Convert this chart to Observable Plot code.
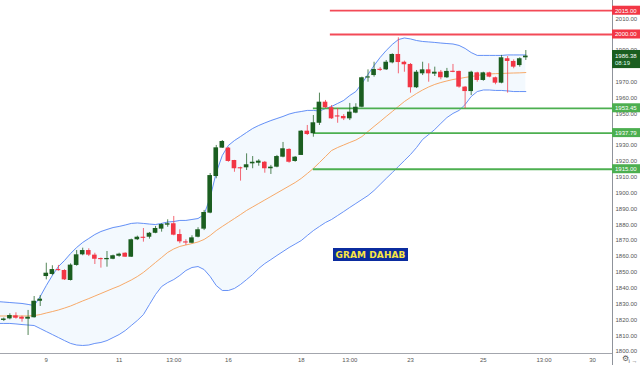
<!DOCTYPE html>
<html><head><meta charset="utf-8">
<script src="https://cdn.jsdelivr.net/npm/d3@7"></script>
<script src="https://cdn.jsdelivr.net/npm/@observablehq/plot@0.6"></script>
<style>
html,body{margin:0;padding:0;background:#fff;}
#wrap{position:relative;width:640px;height:365px;overflow:hidden;}
#tag{position:absolute;left:333px;top:248px;width:75px;height:13px;background:#0b2c9f;color:#f8e544;font:bold 9px "DejaVu Sans",sans-serif;display:flex;align-items:center;justify-content:center;letter-spacing:0.1px;}
#gear{position:absolute;left:622px;top:355px;font:8px/8px "DejaVu Sans",sans-serif;color:#555;}
</style></head><body><div id="wrap"></div>
<script>
// ---- data (4h candles, index 0..86) ----
const opens = [1819.6,1820.6,1822.5,1821.6,1820.4,1821.3,1831.7,1847.3,1848.6,1851.6,
 1851.1,1844.8,1854.3,1861.0,1863.7,1860.8,1858.5,1857.9,1858.2,1860.1,
 1862.0,1859.5,1870.5,1871.9,1872.1,1874.6,1877.2,1879.7,1880.6,1873.8,
 1869.0,1868.3,1872.1,1877.2,1887.3,1910.4,1928.3,1928.3,1920.5,1915.9,
 1915.9,1918.4,1918.8,1919.4,1915.3,1916.3,1922.6,1927.5,1919.9,1923.7,
 1939.0,1937.4,1944.0,1957.3,1953.8,1948.5,1948.3,1946.8,1950.4,1954.1,
 1972.7,1974.1,1977.9,1977.7,1982.1,1987.4,1982.5,1981.1,1966.4,1975.2,
 1977.7,1975.0,1976.2,1972.7,1976.7,1976.7,1966.8,1964.0,1975.8,1971.0,
 1975.8,1972.7,1969.3,1984.7,1983.0,1980.4,1985.3];
const highs = [1821.1,1823.8,1824.4,1822.3,1825.9,1834.7,1835.3,1855.7,1854.1,1854.3,
 1851.6,1855.3,1863.7,1865.2,1864.8,1862.0,1859.0,1863.1,1860.8,1862.0,
 1862.3,1870.9,1872.8,1877.6,1875.1,1878.9,1880.6,1883.1,1885.2,1876.8,
 1870.5,1873.0,1878.1,1889.0,1912.3,1930.0,1933.1,1928.7,1920.6,1916.3,
 1924.7,1923.0,1921.0,1919.9,1917.4,1923.7,1931.9,1927.9,1923.0,1939.4,
 1942.6,1948.9,1963.0,1958.4,1955.2,1953.3,1949.5,1956.5,1956.3,1973.1,
 1977.7,1982.5,1979.2,1983.6,1987.8,1997.9,1983.2,1981.7,1977.3,1982.5,
 1981.5,1979.4,1977.3,1978.6,1981.1,1976.9,1967.2,1976.8,1976.2,1976.2,
 1976.2,1973.1,1986.8,1986.1,1984.0,1985.3,1989.9];
const lows = [1818.9,1820.0,1820.4,1818.5,1810.1,1821.1,1828.4,1845.2,1847.8,1850.7,
 1844.8,1844.5,1853.8,1860.4,1859.9,1854.9,1852.6,1853.2,1857.9,1859.5,
 1859.3,1859.3,1870.0,1869.0,1870.9,1874.3,1875.3,1878.4,1873.0,1868.0,
 1866.9,1868.0,1871.7,1876.3,1886.9,1909.0,1928.1,1919.4,1913.1,1907.5,
 1914.2,1915.3,1916.9,1912.5,1911.7,1915.9,1922.2,1918.8,1919.4,1923.7,
 1936.3,1935.2,1942.6,1953.3,1946.4,1944.0,1945.7,1945.7,1950.0,1953.8,
 1969.9,1973.1,1976.7,1977.3,1981.5,1975.2,1976.2,1963.0,1965.9,1974.1,
 1969.9,1973.5,1971.4,1972.2,1975.9,1966.1,1953.1,1961.5,1969.9,1970.5,
 1972.7,1968.3,1968.9,1963.0,1978.4,1979.4,1983.6];
const closes = [1820.5,1822.7,1821.0,1820.4,1821.6,1831.7,1833.0,1849.4,1851.7,1851.1,
 1845.2,1854.5,1861.0,1863.7,1860.8,1858.2,1858.1,1858.7,1860.4,1861.4,
 1859.5,1870.5,1872.1,1871.6,1874.6,1877.6,1880.1,1880.6,1873.4,1869.2,
 1868.6,1871.7,1876.8,1887.7,1911.0,1928.5,1932.5,1919.9,1915.3,1915.3,
 1917.8,1919.4,1920.1,1915.3,1916.3,1923.0,1927.9,1919.4,1922.6,1939.0,
 1936.9,1944.3,1957.3,1953.8,1946.8,1948.1,1946.8,1951.0,1954.1,1972.7,
 1973.1,1977.9,1977.5,1982.5,1987.4,1982.3,1980.9,1966.4,1976.2,1977.7,
 1975.2,1976.2,1972.7,1976.7,1976.2,1966.8,1964.0,1976.2,1971.0,1975.8,
 1973.1,1969.3,1985.3,1983.0,1979.4,1984.7,1986.38];

// Bollinger bands, index -1..86
const bbFirstIndex = -1;
const bbUpper = [1831.5,1831.2,1830.9,1830.6,1830.3,1829.7,1829.0,1834.7,1841.6,1848.0,
 1853.6,1857.4,1861.8,1865.6,1868.8,1871.3,1873.8,1875.7,1877.0,1878.2,
 1878.9,1879.8,1880.8,1881.1,1880.8,1880.4,1880.1,1880.8,1881.7,1882.0,
 1882.7,1882.7,1883.3,1883.9,1886.4,1897.2,1912.9,1923.7,1930.0,1933.1,
 1935.6,1938.2,1940.7,1942.6,1944.2,1945.7,1947.0,1948.3,1949.8,1950.8,
 1951.4,1952.1,1952.1,1951.7,1953.3,1954.6,1956.5,1958.4,1961.5,1964.0,
 1969.1,1974.8,1980.4,1985.5,1989.9,1993.7,1996.8,1997.8,1997.2,1996.2,
 1995.6,1995.3,1995.0,1994.6,1994.3,1994.0,1993.1,1991.2,1988.6,1986.8,
 1986.8,1986.8,1986.8,1986.8,1987.1,1987.1,1987.1,1987.1];
const bbBasis = [1822.4,1822.4,1822.4,1822.4,1822.4,1822.4,1822.7,1823.3,1824.3,1825.2,
 1826.2,1827.4,1828.7,1830.3,1831.9,1833.4,1835.0,1836.6,1838.2,1839.8,
 1841.3,1843.2,1845.1,1847.3,1849.9,1853.0,1856.2,1859.3,1862.5,1864.7,
 1866.3,1867.2,1868.1,1869.1,1870.7,1873.2,1876.3,1878.9,1881.4,1883.9,
 1886.4,1889.0,1891.2,1893.4,1895.6,1897.8,1900.0,1902.2,1904.4,1906.6,
 1909.2,1912.3,1915.5,1919.2,1923.0,1926.8,1928.7,1930.3,1931.9,1933.4,
 1935.6,1938.8,1942.0,1945.1,1948.3,1951.4,1954.6,1957.7,1960.3,1962.8,
 1965.0,1966.9,1968.5,1969.7,1970.7,1971.6,1972.2,1972.9,1973.5,1974.1,
 1974.8,1975.1,1975.3,1975.4,1975.6,1975.7,1975.8,1976.0];
const bbLower = [1817.7,1817.7,1817.7,1817.4,1817.0,1816.7,1816.4,1814.5,1812.6,1810.7,
 1808.8,1806.9,1805.1,1804.1,1803.8,1804.1,1805.1,1805.7,1806.9,1808.8,
 1810.7,1813.2,1816.4,1819.6,1823.3,1829.7,1836.0,1841.0,1843.5,1845.4,
 1848.0,1851.1,1853.0,1853.6,1851.7,1847.3,1841.6,1838.5,1838.5,1839.8,
 1842.3,1845.4,1848.6,1852.4,1855.5,1858.0,1860.6,1863.1,1865.6,1867.8,
 1870.0,1873.2,1876.3,1878.9,1881.4,1883.3,1885.8,1888.3,1890.9,1893.4,
 1895.9,1898.4,1901.6,1905.4,1909.2,1912.9,1916.7,1920.5,1924.3,1928.7,
 1933.8,1936.9,1940.1,1943.9,1947.6,1950.2,1952.1,1955.8,1960.9,1964.0,
 1965.0,1965.0,1964.7,1964.7,1964.4,1964.0,1964.0,1964.0];

const resistanceLevels = [2015.00, 2000.00];
const resistanceFrom = 53.8;     // candle index where the lines begin
const supportLevels = [1953.45, 1937.79, 1915.00];
const supportFrom = 51;
const countdown = "08:19";
const title = "GRAM DAHAB";

const yTicks = [1800,1810,1820,1830,1840,1850,1860,1870,1880,1890,1900,1910,1920,1930,1950,1960,1970,1990,2010];
const xTickAt = [7, 19, 28, 37, 49, 57, 67, 79, 89, 97];
const xTickLabels = ["9","11","13:00","16","18","13:00","23","25","13:00","30"];

// ---- build tables ----
const GREEN = "#1b5e20", RED = "#f23645", LGREEN = "#4caf50";
const candles = opens.map((o, i) => {
  const c = closes[i];
  let top = Math.max(o, c), bot = Math.min(o, c);
  if (top - bot < 0.7) { const m = (top + bot) / 2; top = m + 0.35; bot = m - 0.35; }
  return {i, o, h: highs[i], l: lows[i], c, top, bot, col: c >= o ? GREEN : RED};
});
const bands = bbUpper.map((u, k) => ({i: k + bbFirstIndex, upper: u, basis: bbBasis[k], lower: bbLower[k]}));
const lastPrice = closes[closes.length - 1];
const xLab = new Map(xTickAt.map((v, k) => [v, xTickLabels[k]]));

const xMin = -0.544, xMax = 100.28, yMin = 1798.74, yMax = 2021.45;

const chart = Plot.plot({
  width: 640, height: 365,
  marginLeft: 0, marginRight: 28, marginTop: 0, marginBottom: 12,
  style: {fontFamily: "Liberation Sans, Arial, sans-serif", background: "#fff", overflow: "visible"},
  x: {domain: [xMin, xMax]},
  y: {domain: [yMin, yMax]},
  color: {type: "identity"},
  marks: [
    Plot.areaY(bands, {x: "i", y1: "lower", y2: "upper", fill: "#2196f3", fillOpacity: 0.055}),
    Plot.lineY(bands, {x: "i", y: "upper", stroke: "#5585f5", strokeWidth: 0.9}),
    Plot.lineY(bands, {x: "i", y: "lower", stroke: "#5585f5", strokeWidth: 0.9}),
    Plot.lineY(bands, {x: "i", y: "basis", stroke: "#f7a058", strokeWidth: 0.9}),
    Plot.ruleY(supportLevels, {y: d => d, x1: supportFrom, x2: xMax, stroke: LGREEN, strokeWidth: 1.8}),
    Plot.ruleY(resistanceLevels, {y: d => d, x1: resistanceFrom, x2: xMax, stroke: RED, strokeWidth: 1.8, strokeOpacity: 0.9}),
    Plot.ruleX(candles, {x: "i", y1: "l", y2: "h", stroke: "col", strokeWidth: 1, strokeOpacity: 0.75}),
    Plot.rect(candles, {x1: d => d.i - 0.38, x2: d => d.i + 0.38, y1: "bot", y2: "top", fill: "col"}),
    Plot.ruleY([yMin], {stroke: "#a3a6ad"}),
    Plot.ruleX([xMax], {stroke: "#8f939b", insetBottom: -12}),
    Plot.axisY(yTicks, {anchor: "right", tickSize: 0, tickPadding: 3, tickFormat: d => d.toFixed(2), color: "#555", fontSize: 6}),
    Plot.axisX(xTickAt, {tickSize: 0, tickPadding: 4, tickFormat: d => xLab.get(d), color: "#555", fontSize: 6}),
    // price tags on the right scale
    Plot.rect(resistanceLevels, {x1: xMax, x2: xMax, y1: d => d, y2: d => d, insetTop: -4.5, insetBottom: -4.5, insetRight: -28, fill: RED}),
    Plot.text(resistanceLevels, {x: xMax, y: d => d, text: d => d.toFixed(2), textAnchor: "start", dx: 2.5, fill: "#fff", fontSize: 6}),
    Plot.rect(supportLevels, {x1: xMax, x2: xMax, y1: d => d, y2: d => d, insetTop: -4.5, insetBottom: -4.5, insetRight: -28, fill: LGREEN}),
    Plot.text(supportLevels, {x: xMax, y: d => d, text: d => d.toFixed(2), textAnchor: "start", dx: 2.5, fill: "#fff", fontSize: 6}),
    Plot.rect([lastPrice], {x1: xMax, x2: xMax, y1: d => d, y2: d => d, insetTop: -5.6, insetBottom: -12.5, insetRight: -28, fill: GREEN}),
    Plot.text([lastPrice], {x: xMax, y: d => d, text: d => d.toFixed(2), textAnchor: "start", dx: 2.5, fill: "#fff", fontSize: 6}),
    Plot.text([lastPrice], {x: xMax, y: d => d, text: () => countdown, textAnchor: "start", dx: 2.5, dy: 7, fill: "#dfe", fontSize: 6})
  ]
});
const wrap = document.getElementById("wrap");
wrap.appendChild(chart);
const tag = document.createElement("div");
tag.id = "tag"; tag.textContent = title;
wrap.appendChild(tag);
const gear = document.createElement("div");
gear.id = "gear"; gear.textContent = "⚙";
wrap.appendChild(gear);
</script>
</body></html>
